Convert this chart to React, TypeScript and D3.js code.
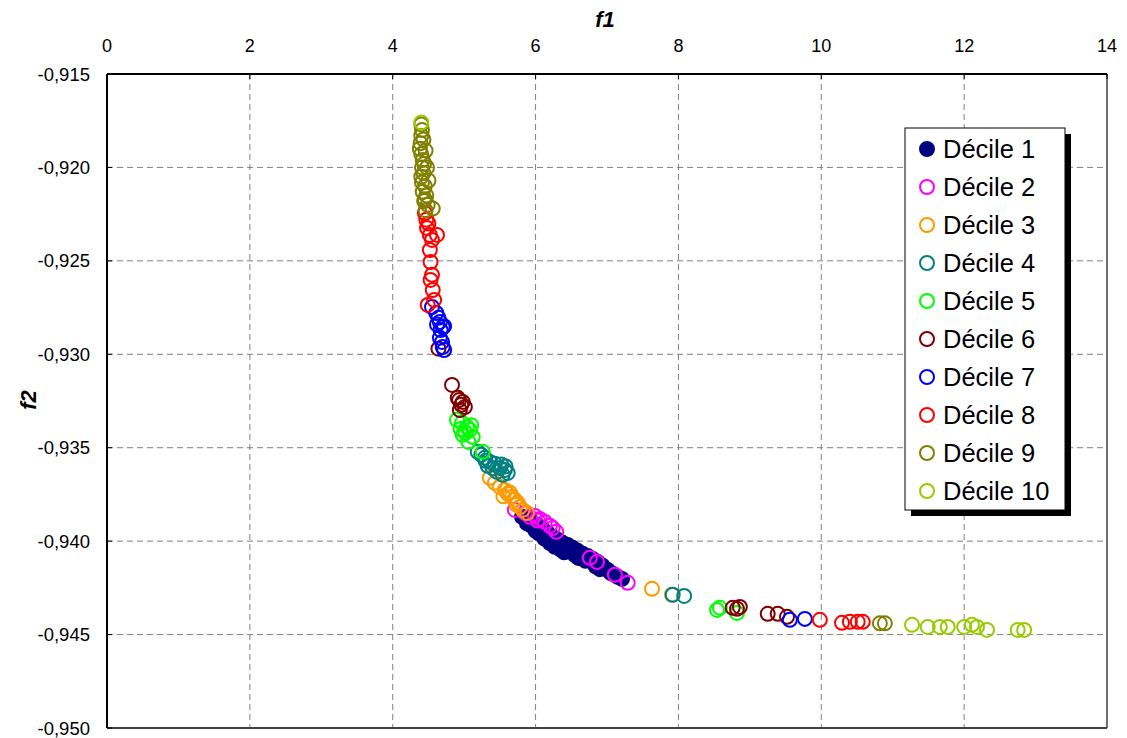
import React from "react";
import * as d3 from "d3";

const seriesNames = ["Décile 1","Décile 2","Décile 3","Décile 4","Décile 5","Décile 6","Décile 7","Décile 8","Décile 9","Décile 10"];
const seriesColors = ["#000080","#ff00ff","#ff9900","#008080","#00ff00","#800000","#0000ff","#ff0000","#808000","#99cc00"];

const d1x = [5.81,5.92,6.02,6.10,6.17,6.24,6.31,6.38,6.45,6.52,6.59,6.66,6.73,6.80,6.87,6.94,7.01,7.08,7.15,7.21,6.05,6.20,6.40,6.60,6.90,5.95,6.15,5.88,6.00,6.12,6.27,6.35,6.48,6.55,6.70,6.84,7.05];
const d1y = [-0.93870,-0.93886,-0.93913,-0.93934,-0.93956,-0.93977,-0.93993,-0.94009,-0.94020,-0.94036,-0.94052,-0.94068,-0.94079,-0.94095,-0.94111,-0.94132,-0.94154,-0.94175,-0.94191,-0.94202,-0.93960,-0.94010,-0.94060,-0.94090,-0.94150,-0.93920,-0.93990,-0.93905,-0.93945,-0.93985,-0.94030,-0.94045,-0.94055,-0.94075,-0.94105,-0.94135,-0.94170];
const d2x = [5.71,5.85,5.99,6.06,6.13,6.20,6.29,6.76,6.86,7.11,7.29,5.92,6.03,6.24];
const d2y = [-0.93833,-0.93849,-0.93865,-0.93881,-0.93897,-0.93918,-0.93950,-0.94089,-0.94111,-0.94180,-0.94223,-0.93870,-0.93890,-0.93930];
const d3x = [5.36,5.43,5.50,5.57,5.61,5.67,5.71,5.75,5.78,5.82,5.88,5.55,5.64,5.73,7.63,7.91];
const d3y = [-0.93661,-0.93688,-0.93710,-0.93726,-0.93747,-0.93763,-0.93779,-0.93795,-0.93817,-0.93833,-0.93849,-0.93760,-0.93740,-0.93805,-0.94255,-0.94287];
const d4x = [5.19,5.29,5.36,5.43,5.50,5.57,5.61,5.54,5.46,5.33,5.24,5.40,5.52,5.58,5.30,7.92,8.08];
const d4y = [-0.93522,-0.93554,-0.93576,-0.93586,-0.93608,-0.93619,-0.93635,-0.93645,-0.93629,-0.93597,-0.93538,-0.93610,-0.93590,-0.93600,-0.93570,-0.94287,-0.94293];
const d5x = [4.90,4.97,5.04,5.08,4.98,5.12,5.06,5.02,5.10,4.95,5.26,8.58,8.54,8.82];
const d5y = [-0.93351,-0.93367,-0.93389,-0.93405,-0.93431,-0.93442,-0.93469,-0.93420,-0.93380,-0.93400,-0.93522,-0.94357,-0.94368,-0.94384];
const d6x = [4.83,4.91,4.98,5.01,4.94,4.96,4.93,4.64,8.76,8.82,8.86,9.25,9.39,9.52];
const d6y = [-0.93164,-0.93233,-0.93255,-0.93282,-0.93298,-0.93270,-0.93245,-0.92970,-0.94357,-0.94362,-0.94352,-0.94389,-0.94389,-0.94405];
const d7x = [4.55,4.61,4.64,4.66,4.70,4.62,4.72,4.66,4.69,4.70,4.72,4.67,9.56,9.77];
const d7y = [-0.92747,-0.92779,-0.92805,-0.92827,-0.92854,-0.92840,-0.92850,-0.92912,-0.92934,-0.92961,-0.92977,-0.92870,-0.94421,-0.94416];
const d8x = [4.45,4.48,4.52,4.55,4.62,4.52,4.53,4.55,4.53,4.56,4.58,4.49,4.47,4.50,9.98,10.29,10.40,10.51,10.58];
const d8y = [-0.92244,-0.92324,-0.92361,-0.92388,-0.92361,-0.92442,-0.92506,-0.92575,-0.92602,-0.92656,-0.92709,-0.92736,-0.92280,-0.92300,-0.94421,-0.94437,-0.94432,-0.94432,-0.94432];
const d9x = [4.40,4.41,4.40,4.39,4.38,4.40,4.42,4.44,4.41,4.48,4.43,4.40,4.50,4.45,4.42,4.47,4.44,4.49,4.56,4.46,4.43,4.46,4.41,4.45,10.82,10.89];
const d9y = [-0.9177,-0.9180,-0.9183,-0.9187,-0.9190,-0.9193,-0.9196,-0.9198,-0.9200,-0.9200,-0.9203,-0.9205,-0.9207,-0.9210,-0.9213,-0.9215,-0.9218,-0.9220,-0.9222,-0.9223,-0.9185,-0.9191,-0.9208,-0.9217,-0.9444,-0.9444];
const d10x = [4.40,11.27,11.49,11.66,11.77,12.00,12.11,12.18,12.32,12.75,12.84];
const d10y = [-0.9176,-0.94448,-0.94459,-0.94459,-0.94459,-0.94459,-0.94448,-0.94459,-0.94475,-0.94475,-0.94475];

const seriesX = [d1x,d2x,d3x,d4x,d5x,d6x,d7x,d8x,d9x,d10x];
const seriesY = [d1y,d2y,d3y,d4y,d5y,d6y,d7y,d8y,d9y,d10y];

const xTicks = [0,2,4,6,8,10,12,14];
const yTicks = [-0.915,-0.92,-0.925,-0.93,-0.935,-0.94,-0.945,-0.95];

const FONT = "'Liberation Sans', Arial, sans-serif";

export default function App() {
  const W = 1127, H = 738;
  const left = 107, right = 1107, top = 74, bottom = 728;
  const x = d3.scaleLinear().domain([0, 14]).range([left, right]);
  const y = d3.scaleLinear().domain([-0.915, -0.95]).range([top, bottom]);
  const fmt = (v: number) => d3.format(".3f")(v).replace(".", ",").replace("−", "-");

  const legX = 905, legY = 128, legW = 160, legH = 382;
  const r = 7;

  return (
    <div style={{ position: "absolute", left: 0, top: 0 }}>
      <svg width={W} height={H} style={{ display: "block", background: "#fff" }} fontFamily={FONT}>
        <rect x={0} y={0} width={W} height={H} fill="#fff" />
        {xTicks.slice(1, -1).map((t) => (
          <line key={"gx" + t} x1={x(t)} x2={x(t)} y1={top} y2={bottom} stroke="#808080" strokeWidth={1} strokeDasharray="6,4" />
        ))}
        {yTicks.slice(1, -1).map((t) => (
          <line key={"gy" + t} x1={left} x2={right} y1={y(t)} y2={y(t)} stroke="#808080" strokeWidth={1} strokeDasharray="6,4" />
        ))}
        <line x1={right} x2={right} y1={top} y2={bottom} stroke="#404040" strokeWidth={1.5} />
        <line x1={left} x2={right} y1={bottom} y2={bottom} stroke="#404040" strokeWidth={2} />
        <line x1={left} x2={left} y1={top} y2={bottom} stroke="#000" strokeWidth={2} />
        <line x1={left} x2={right} y1={top} y2={top} stroke="#000" strokeWidth={2} />
        {xTicks.map((t) => (
          <g key={"xt" + t}>
            <line x1={x(t)} x2={x(t)} y1={top} y2={top + 5} stroke="#000" strokeWidth={1} />
            <text x={x(t)} y={52} textAnchor="middle" fontSize={18} fill="#000">{t}</text>
          </g>
        ))}
        {yTicks.map((t) => (
          <g key={"yt" + t}>
            <line x1={left} x2={left + 5} y1={y(t)} y2={y(t)} stroke="#000" strokeWidth={1} />
            <text x={left - 17} y={y(t) + 6.5} textAnchor="end" fontSize={18.5} fill="#000">{fmt(t)}</text>
          </g>
        ))}
        <text x={605} y={27} textAnchor="middle" fontSize={22} fontWeight="bold" fontStyle="italic">f1</text>
        <text transform={`translate(36,400) rotate(-90)`} textAnchor="middle" fontSize={22} fontWeight="bold" fontStyle="italic">f2</text>
        {seriesX.map((xs, si) => (
          <g key={"s" + si}>
            {xs.map((xv, i) => (
              <circle key={i} cx={x(xv)} cy={y(seriesY[si][i])} r={r}
                fill={si === 0 ? seriesColors[si] : "none"}
                stroke={seriesColors[si]} strokeWidth={2} />
            ))}
          </g>
        ))}
        <rect x={legX + 6} y={legY + 6} width={legW} height={legH} fill="#000" />
        <rect x={legX} y={legY} width={legW} height={legH} fill="#fff" stroke="#000" strokeWidth={1} />
        {seriesNames.map((n, i) => (
          <g key={"l" + i}>
            <circle cx={legX + 22} cy={legY + 21 + i * 38} r={7}
              fill={i === 0 ? seriesColors[i] : "none"} stroke={seriesColors[i]} strokeWidth={2} />
            <text x={legX + 38} y={legY + 30 + i * 38} fontSize={25.5} fill="#000">{n}</text>
          </g>
        ))}
      </svg>
    </div>
  );
}
